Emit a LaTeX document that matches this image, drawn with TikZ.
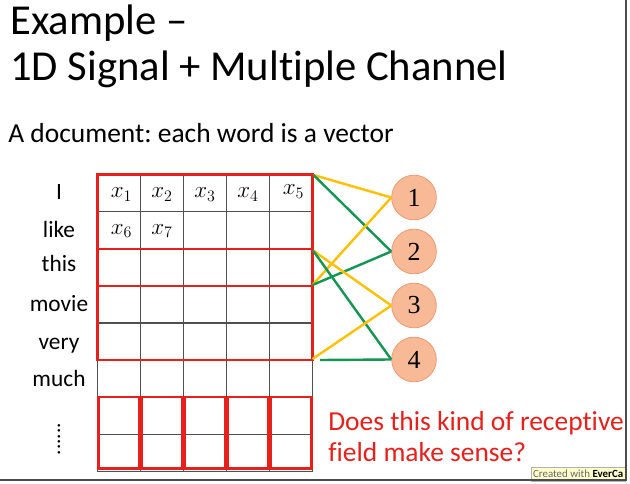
\documentclass[tikz,border=0pt]{standalone}
\usepackage{fontspec}
\setmainfont{Carlito}[Ligatures={TeX,NoCommon}]
\newfontfamily\unitfont{Liberation Serif}
\usetikzlibrary{positioning}
\frenchspacing

\definecolor{fieldred}{RGB}{232,32,28}
\definecolor{linkyellow}{RGB}{255,192,0}
\definecolor{linkgreen}{RGB}{18,150,82}
\definecolor{unitfill}{RGB}{248,186,150}
\definecolor{unitdraw}{RGB}{238,152,112}
\definecolor{gridgray}{RGB}{80,80,80}
\definecolor{stampfill}{RGB}{255,255,204}

\begin{document}
\begin{tikzpicture}[x=0.75pt, y=-0.75pt, node distance=6.4pt,
  cell/.style={draw=gridgray, line width=0.8pt},
  field/.style={draw=fieldred, line width=1.9pt},
  unit/.style={circle, draw=unitdraw, fill=unitfill, line width=0.6pt, minimum size=33.5pt, inner sep=0pt, font=\unitfont\fontsize{19.5}{19.5}\selectfont},
  word/.style={anchor=base, font=\fontsize{17.5}{17.5}\selectfont},
  vec/.style={font=\fontsize{17}{17}\selectfont},
  ylink/.style={draw=linkyellow, line width=1.8pt},
  glink/.style={draw=linkgreen, line width=1.8pt}]
\useasboundingbox (0,0) rectangle (630,484);
\fill[white] (0,0) rectangle (630,484);

% title and subtitle
\node[anchor=base west, inner sep=0pt, font=\fontsize{32}{32}\selectfont] (title) at (10,34.3) {Example –};
\node[anchor=base west, inner sep=0pt, font=\fontsize{32}{32}\selectfont] (subject) at (10,81) {1D Signal + Multiple Channel};
\node[anchor=base west, inner sep=0pt, font=\fontsize{20.6}{20.6}\selectfont] (doc) at (8,142.7) {A document: each word is a vector};

% word labels
\node[word] (w1) at (59,199.3) {I};
\node[word] (w2) at (59,238) {like};
\node[word] (w3) at (59,271.5) {this};
\node[word] (w4) at (59,311) {movie};
\node[word] (w5) at (59,349) {very};
\node[word] (w6) at (59,386.7) {much};
\node[font=\fontsize{16}{16}\selectfont, rotate=90] (w7) at (59,439) {......};

% grid of word vectors
\foreach \c in {0,...,5}
  \draw[cell] (97.3+43.08*\c,174.5) -- (97.3+43.08*\c,471.5);
\foreach \r in {0,...,8}
  \draw[cell] (97.3,174.5+37.125*\r) -- (312.7,174.5+37.125*\r);

\node[vec] (x1) at (121.5,194.5) {$x_1$};
\node[vec] (x2) at (162,194.5) {$x_2$};
\node[vec] (x3) at (205,194.5) {$x_3$};
\node[vec] (x4) at (248,194.5) {$x_4$};
\node[vec] (x5) at (293.5,191.5) {$x_5$};
\node[vec] (x6) at (121.5,231) {$x_6$};
\node[vec] (x7) at (162,231) {$x_7$};

% receptive fields
\draw[field] (97.3,174.5) rectangle (312.7,286);
\draw[field] (97.3,249) rectangle (312.7,360);
\foreach \c in {0,...,4}
  \draw[field] (98.3+43.08*\c,397) rectangle (96.3+43.08*\c+43.08,468.5);
\coordinate (fa-top) at (313.5,175);
\coordinate (fa-bot) at (312.5,285);
\coordinate (fb-top) at (313,250.5);
\coordinate (fb-bot) at (312.5,359);
\coordinate (fb-end) at (320,360);

% output units
\node[unit] (u1) at (414,197.5) {1};
\node[unit, below=of u1] (u2) {2};
\node[unit, below=of u2] (u3) {3};
\node[unit, below=of u3] (u4) {4};

\draw[ylink] (fa-top) -- (u1.west);
\draw[glink] (fa-top) -- (u2.west);
\draw[ylink] (u1.west) -- (fa-bot);
\draw[glink] (u2.west) -- (fa-bot);
\draw[ylink] (fb-top) -- (u3.west);
\draw[glink] (fb-top) -- (u4.west);
\draw[ylink] (u3.west) -- (fb-bot);
\draw[glink] (fb-end) -- (u4.west);

% question
\node[anchor=base west, inner sep=0pt, text=fieldred, font=\fontsize{20.6}{20.6}\selectfont] (ask1) at (328,430.7) {Does this kind of receptive};
\node[anchor=base west, inner sep=0pt, text=fieldred, font=\fontsize{20.6}{20.6}\selectfont] (ask2) at (328,461.7) {field make sense?};

% recorder stamp and frame
\node[anchor=north east, draw=gray!60, fill=stampfill, minimum height=11pt, inner sep=1.5pt, font=\fontsize{8.2}{8.2}\selectfont] (stamp) at (625.5,466.5) {\textcolor{gray!80!black}{Created with} \textbf{EverCa}};
\draw[gray!60!black, line width=1.4pt] (626,0) -- (626,480) -- (0,480);
\end{tikzpicture}
\end{document}
